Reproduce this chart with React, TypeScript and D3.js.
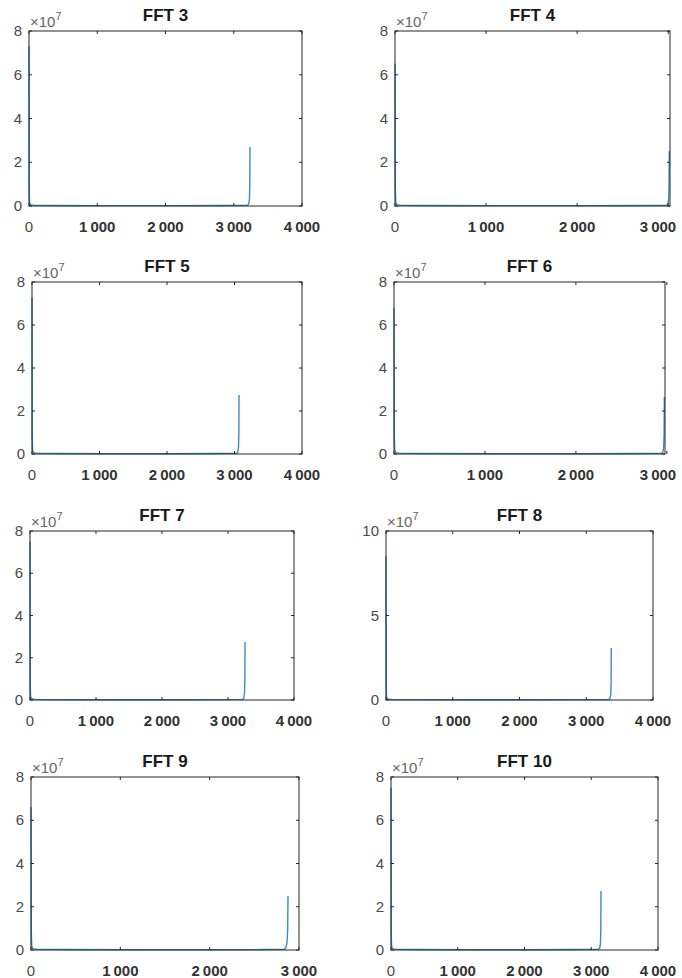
import React from "react";
import * as d3 from "d3";

// ---------- DATA ----------
const titles = ["FFT 3", "FFT 4", "FFT 5", "FFT 6", "FFT 7", "FFT 8", "FFT 9", "FFT 10"];
const xMaxes = [4000, 3020, 4000, 2980, 4000, 4000, 3000, 4000];
const yMaxes = [8, 8, 8, 8, 8, 10, 8, 8];
const xTicksFull = [0, 1000, 2000, 3000, 4000];
const xTicksShort = [0, 1000, 2000, 3000];
const xTickLabelsFull = ["0", "1\u2009000", "2\u2009000", "3\u2009000", "4\u2009000"];
const xTickLabelsShort = ["0", "1\u2009000", "2\u2009000", "3\u2009000"];
const yTicks8 = [0, 2, 4, 6, 8];
const yTicks10 = [0, 5, 10];
const exponentLabel = "7";

// amplitude in units of 1e7, frequency in bins
const fft3Freq = [0, 3, 8, 20, 80, 400, 1200, 2000, 2800, 3200, 3218, 3230, 3235, 3238];
const fft3Amp = [7.3, 0.9, 0.2, 0.06, 0.03, 0.02, 0.015, 0.015, 0.02, 0.03, 0.08, 0.3, 0.9, 2.7];
const fft4Freq = [0, 3, 8, 20, 70, 400, 1200, 2000, 2700, 2980, 2996, 3005, 3009, 3012];
const fft4Amp = [6.5, 0.9, 0.2, 0.06, 0.03, 0.02, 0.015, 0.015, 0.02, 0.03, 0.08, 0.3, 0.9, 2.5];
const fft5Freq = [0, 3, 8, 20, 80, 400, 1200, 2000, 2700, 3030, 3047, 3059, 3064, 3067];
const fft5Amp = [7.3, 0.9, 0.2, 0.06, 0.03, 0.02, 0.015, 0.015, 0.02, 0.03, 0.08, 0.3, 0.9, 2.74];
const fft6Freq = [0, 3, 8, 20, 70, 400, 1200, 2000, 2650, 2940, 2956, 2965, 2970, 2973];
const fft6Amp = [6.8, 0.9, 0.2, 0.06, 0.03, 0.02, 0.015, 0.015, 0.02, 0.03, 0.08, 0.3, 0.9, 2.65];
const fft7Freq = [0, 3, 8, 20, 80, 400, 1200, 2000, 2800, 3220, 3238, 3250, 3255, 3258];
const fft7Amp = [7.5, 0.9, 0.2, 0.06, 0.03, 0.02, 0.015, 0.015, 0.02, 0.03, 0.08, 0.3, 0.9, 2.75];
const fft8Freq = [0, 3, 8, 20, 80, 400, 1200, 2000, 2900, 3337, 3355, 3367, 3372, 3375];
const fft8Amp = [8.5, 1.0, 0.22, 0.07, 0.03, 0.02, 0.015, 0.015, 0.02, 0.03, 0.08, 0.3, 1.0, 3.08];
const fft9Freq = [0, 3, 8, 20, 70, 400, 1200, 2000, 2600, 2835, 2853, 2866, 2873, 2877];
const fft9Amp = [6.6, 0.9, 0.2, 0.06, 0.03, 0.02, 0.015, 0.015, 0.02, 0.03, 0.1, 0.35, 0.9, 2.5];
const fft10Freq = [0, 3, 8, 20, 80, 400, 1200, 2000, 2700, 3108, 3126, 3138, 3143, 3146];
const fft10Amp = [7.5, 0.9, 0.2, 0.06, 0.03, 0.02, 0.015, 0.015, 0.02, 0.03, 0.08, 0.3, 0.9, 2.73];

const freqs = [fft3Freq, fft4Freq, fft5Freq, fft6Freq, fft7Freq, fft8Freq, fft9Freq, fft10Freq];
const amps = [fft3Amp, fft4Amp, fft5Amp, fft6Amp, fft7Amp, fft8Amp, fft9Amp, fft10Amp];

// ---------- LAYOUT (pixel boxes: left, top, right, bottom) ----------
const boxes: [number, number, number, number][] = [
  [29, 31, 302, 206],
  [395, 31, 670, 206],
  [32, 282, 302, 454],
  [394, 282, 665, 454],
  [30, 531, 294, 700],
  [386, 531, 653, 700],
  [31, 777, 299, 950],
  [391, 777, 658, 950],
];

const W = 682;
const H = 978;
const FONT = "'Liberation Sans', Arial, Helvetica, sans-serif";
const LINE_COLOR = "#3b8dbf";
const AXIS_COLOR = "#262626";
const LABEL_COLOR = "#4a4a4a";

function Panel({ i }: { i: number }) {
  const [l, t, r, b] = boxes[i];
  const xMax = xMaxes[i];
  const yMax = yMaxes[i];
  const x = d3.scaleLinear().domain([0, xMax]).range([l, r]);
  const y = d3.scaleLinear().domain([0, yMax]).range([b, t]);
  const xt = xMax >= 3500 ? xTicksFull : xTicksShort;
  const xl = xMax >= 3500 ? xTickLabelsFull : xTickLabelsShort;
  const yt = yMax === 10 ? yTicks10 : yTicks8;
  const pts = freqs[i].map((f, k) => [f, amps[i][k]] as [number, number]);
  const line = d3
    .line<[number, number]>()
    .x((d) => x(d[0]))
    .y((d) => y(d[1]));
  const tickLen = 3;
  return (
    <g>
      <path d={line(pts) || ""} fill="none" stroke={LINE_COLOR} strokeWidth={1.4} />
      <rect x={l} y={t} width={r - l} height={b - t} fill="none" stroke={AXIS_COLOR} strokeWidth={1} />
      {xt.map((v, k) => (
        <g key={"x" + k}>
          <line x1={x(v)} x2={x(v)} y1={b} y2={b - tickLen} stroke={AXIS_COLOR} strokeWidth={1} />
          <line x1={x(v)} x2={x(v)} y1={t} y2={t + tickLen} stroke={AXIS_COLOR} strokeWidth={1} />
          <text
            x={Math.min(x(v), W - 24)}
            y={b + 26}
            textAnchor="middle"
            fontFamily={FONT}
            fontSize={v === 0 ? 15 : 15}
            fontWeight={v === 0 ? 400 : 700}
            fill={v === 0 ? LABEL_COLOR : "#333"}
          >
            {xl[k]}
          </text>
        </g>
      ))}
      {yt.map((v, k) => (
        <g key={"y" + k}>
          <line x1={l} x2={l + tickLen} y1={y(v)} y2={y(v)} stroke={AXIS_COLOR} strokeWidth={1} />
          <line x1={r} x2={r - tickLen} y1={y(v)} y2={y(v)} stroke={AXIS_COLOR} strokeWidth={1} />
          <text
            x={l - 7}
            y={y(v) + 5}
            textAnchor="end"
            fontFamily={FONT}
            fontSize={15}
            fill={LABEL_COLOR}
          >
            {String(v)}
          </text>
        </g>
      ))}
      <text x={l + 1} y={t - 4} fontFamily={FONT} fontSize={15} fill="#666">
        ×10
        <tspan dy={-7} fontSize={11}>
          {exponentLabel}
        </tspan>
      </text>
      <text
        x={(l + r) / 2}
        y={t - 10}
        textAnchor="middle"
        fontFamily={FONT}
        fontSize={17}
        fontWeight={700}
        fill="#1a1a1a"
      >
        {titles[i]}
      </text>
    </g>
  );
}

export default function App() {
  return (
    <svg
      width={W}
      height={H}
      style={{ position: "absolute", left: 0, top: 0, background: "#fff" }}
    >
      <rect x={0} y={0} width={W} height={H} fill="#fff" />
      {titles.map((_, i) => (
        <Panel key={i} i={i} />
      ))}
    </svg>
  );
}
